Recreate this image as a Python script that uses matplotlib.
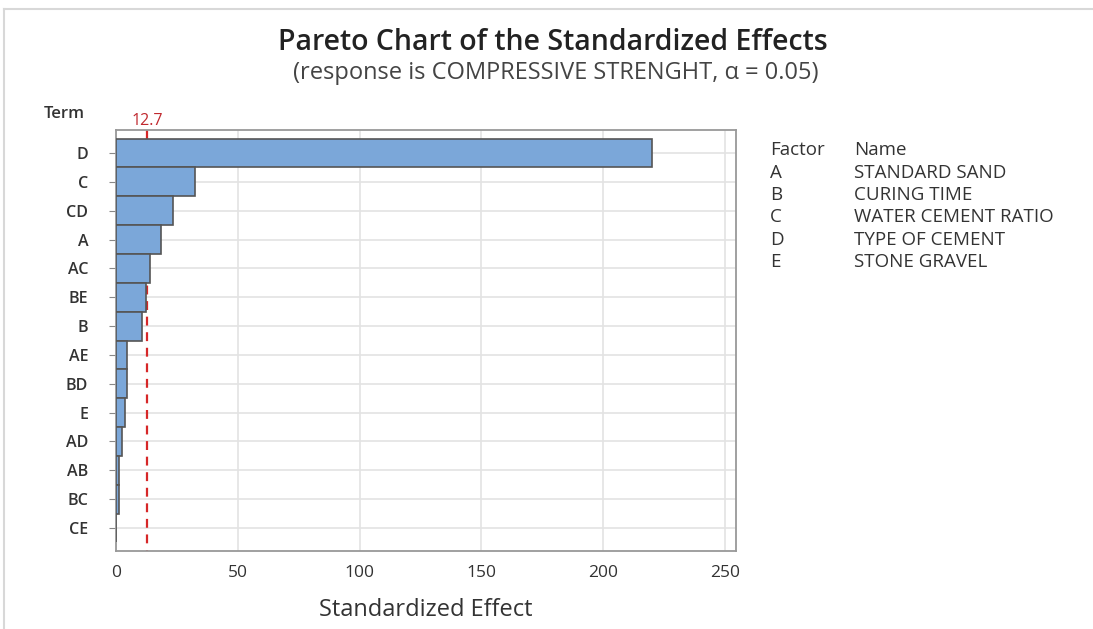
import matplotlib.pyplot as plt
from matplotlib.lines import Line2D

# terimler ve standartlaştırılmış etkiler
terms = ["D", "C", "CD", "A", "AC", "BE", "B", "AE", "BD", "E", "AD", "AB", "BC", "CE"]
effects = [220.0, 32.5, 23.2, 18.6, 13.9, 12.3, 10.7, 4.5, 4.6, 3.8, 2.4, 1.2, 1.4, 0.1]
critical = 12.7

factors = ["A", "B", "C", "D", "E"]
names = ["STANDARD SAND", "CURING TIME", "WATER CEMENT RATIO", "TYPE OF CEMENT", "STONE GRAVEL"]

plt.rcParams["font.family"] = ["Open Sans", "DejaVu Sans"]

fig = plt.figure(figsize=(10.93, 6.29), dpi=100)
W, H = 1093, 629
ax = fig.add_axes([116 / W, 1 - 551 / H, (736 - 116) / W, (551 - 130) / H])

ypos = list(range(len(terms)))
ymin, ymax = -0.8, len(terms) - 0.2
ax.barh(ypos, effects, height=1.0, color="#7BA7D9", edgecolor="#555555", linewidth=1.2, zorder=3)
# kritik çizgi çubukların arkasında, kesikler üstten başlar
ax.plot([critical, critical], [ymin, ymax], color="#D62728", linestyle=(0, (4, 3)),
        linewidth=1.6, zorder=2, clip_on=False)

ax.set_xlim(0, 254.5)
ax.set_ylim(ymax, ymin)
ax.set_yticks(ypos)
ax.set_yticklabels(terms, fontsize=11.5, fontweight="semibold", color="#333333")
ax.set_xticks([0, 50, 100, 150, 200, 250])
ax.tick_params(axis="x", labelsize=12.5, length=0, pad=10, labelcolor="#333333")
ax.tick_params(axis="y", length=5, color="#888888", pad=15)
ax.grid(True, color="#E3E3E3", linewidth=1.2, zorder=0)
ax.set_axisbelow(True)
for s in ax.spines.values():
    s.set_color("#999999")
    s.set_linewidth(1.3)
ax.set_xlabel("Standardized Effect", fontsize=17, color="#333333", labelpad=12)

# kritik değer etiketi
ax.text(critical, -0.85, "12.7", color="#C0282E", fontsize=11.5, ha="center", va="bottom")
fig.text(64 / W, 1 - 114 / H, "Term", fontsize=12, fontweight="semibold", ha="center", va="center",
         color="#333333")

fig.text(553 / W, 1 - 42 / H, "Pareto Chart of the Standardized Effects", fontsize=20.5,
         fontweight="semibold", ha="center", va="center", color="#222222")
fig.text(556 / W, 1 - 73 / H, "(response is COMPRESSIVE STRENGHT, \u03b1 = 0.05)", fontsize=17,
         ha="center", va="center", color="#444444")

# faktör tablosu
fig.text(770 / W, 1 - 150 / H, "Factor", fontsize=13.5, va="center", color="#333333")
fig.text(854 / W, 1 - 150 / H, "Name", fontsize=13.5, va="center", color="#333333")
for i, (f, n) in enumerate(zip(factors, names)):
    yy = 1 - (172.5 + i * 22.4) / H
    fig.text(770 / W, yy, f, fontsize=13.5, va="center", color="#333333")
    fig.text(854 / W, yy, n, fontsize=13.5, va="center", color="#333333")

# ekran görüntüsü çerçevesi
fig.add_artist(Line2D([4 / W, 1], [1 - 9 / H, 1 - 9 / H], color="#D8D8D8", linewidth=1.5))
fig.add_artist(Line2D([4 / W, 4 / W], [0, 1 - 9 / H], color="#D8D8D8", linewidth=1.5))

fig.savefig("out.png", dpi=100)
